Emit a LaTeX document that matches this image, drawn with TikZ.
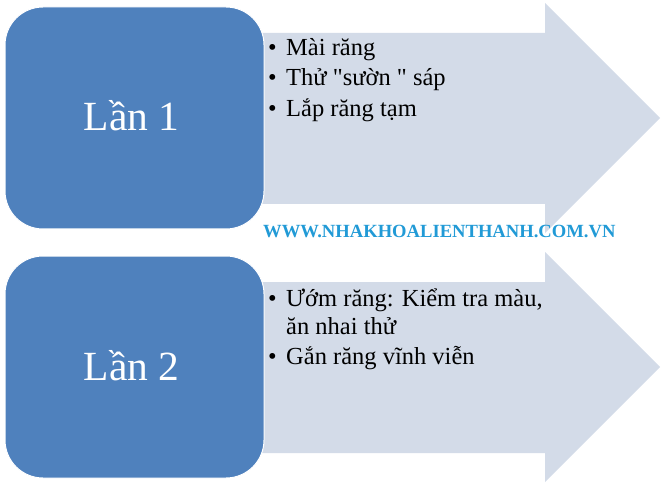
\documentclass[tikz,border=0pt]{standalone}
\usepackage{fontspec}
\setmainfont{Liberation Serif}[Ligatures=TeXOff]
\definecolor{boxblue}{HTML}{4F81BD}
\definecolor{arrowc}{HTML}{D3DBE8}
\definecolor{urlc}{HTML}{219AD6}
\tikzset{
  bigarrow/.style={fill=arrowc, draw=none},
  stagebox/.style={fill=boxblue, draw=white, line width=1pt, rounded corners=38pt,
    minimum width=259pt, minimum height=222pt, inner sep=0pt},
  stagetext/.style={anchor=base, inner sep=0pt, text=white,
    font=\fontsize{41.5}{48}\selectfont},
  bul/.style={anchor=base west, inner sep=0pt, font=\fontsize{24.5}{29}\selectfont},
  item/.style={anchor=base west, inner sep=0pt, font=\fontsize{24.5}{29}\selectfont},
  urltext/.style={anchor=base west, inner sep=0pt, text=urlc,
    font=\fontsize{18.6}{22}\selectfont\bfseries}
}
\begin{document}
\begin{tikzpicture}[x=1pt,y=-1pt]
\useasboundingbox (0,0) rectangle (663,486);
% arrows
\path[bigarrow] (230,33) -- (545,33) -- (545,3) -- (660,118) -- (545,233) -- (545,204) -- (230,204) -- cycle;
\path[bigarrow] (230,282) -- (545,282) -- (545,252) -- (660,367) -- (545,482) -- (545,453) -- (230,453) -- cycle;
% boxes
\node[stagebox] (b1) at (134.5,118) {};
\node[stagetext] (t1) at (131.5,131) {Lần 1};
\node[stagebox] (b2) at (134.5,367) {};
\node[stagetext] (t2) at (131.5,380) {Lần 2};
% items box 1
\node[bul] (p1) at (268,56) {•};
\node[item] (i1) at (286,56) {Mài răng};
\node[bul] (p2) at (268,86) {•};
\node[item] (i2) at (286,86) {Thử "sườn " sáp};
\node[bul] (p3) at (268,116.5) {•};
\node[item] (i3) at (286,116.5) {Lắp răng tạm};
% items box 2
\node[bul] (q1) at (268,306) {•};
\node[item] (j1) at (286,306) {Ướm răng: Kiểm tra màu,};
\node[item] (j1b) at (286,334) {ăn nhai thử};
\node[bul] (q2) at (268,364) {•};
\node[item] (j2) at (286,364) {Gắn răng vĩnh viễn};
% url
\node[urltext] (url) at (263,237) {WWW.NHAKHOALIENTHANH.COM.VN};
\end{tikzpicture}
\end{document}
